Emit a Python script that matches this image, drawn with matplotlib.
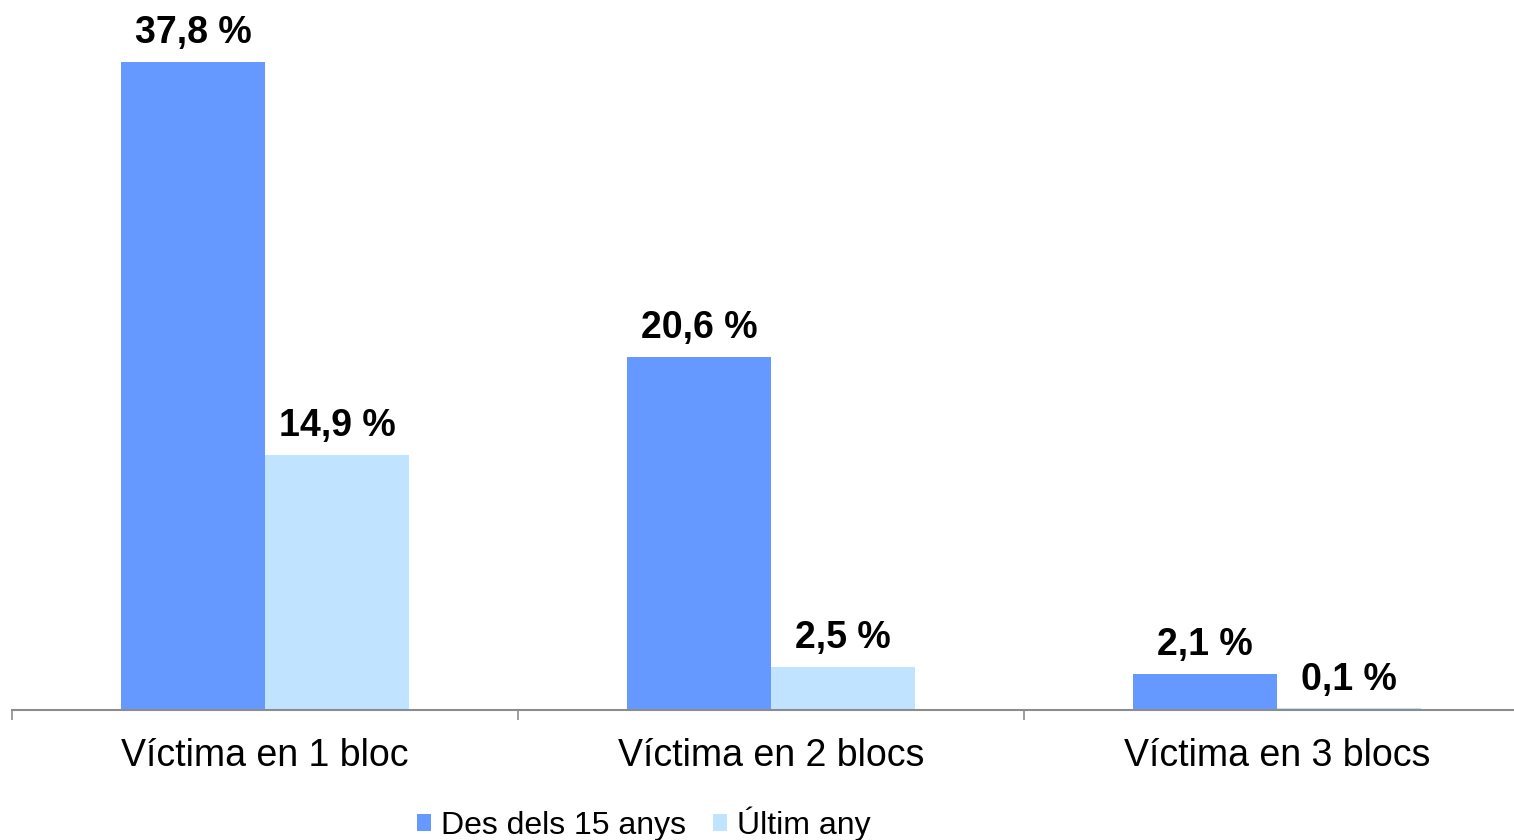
import matplotlib
matplotlib.use("Agg")
import matplotlib.pyplot as plt
import numpy as np

plt.rcParams['font.family'] = ['Liberation Sans', 'DejaVu Sans']

categories = ["Víctima en 1 bloc", "Víctima en 2 blocs", "Víctima en 3 blocs"]
series_names = ["Des dels 15 anys", "Últim any"]
des_dels_15 = [37.8, 20.6, 2.1]
ultim_any = [14.9, 2.5, 0.1]
colors = ["#6699FF", "#C0E4FF"]

W, H = 1514, 840
fig = plt.figure(figsize=(W / 100, H / 100), dpi=100)
ax = fig.add_axes([12 / W, 1 - 710 / H, 1518 / W, 710 / H])

x = np.arange(len(categories))
bw = 0.2846
vals = [des_dels_15, ultim_any]
for i, (s, c) in enumerate(zip(vals, colors)):
    pos = x + (i - 0.5) * bw
    ax.bar(pos, s, width=bw, color=c, label=series_names[i], zorder=2)
    for xp, v in zip(pos, s):
        ax.annotate(f"{v:.1f} %".replace(".", ","), (xp, v), xytext=(0, 13.5),
                    textcoords="offset points", ha="center", va="baseline",
                    fontsize=27, fontweight="bold", color="black")

ax.set_xlim(-0.5, 2.5)
ax.set_ylim(0, 710 / 17.14)
for side in ["top", "right", "left"]:
    ax.spines[side].set_visible(False)
ax.spines["bottom"].set_color("#8c8c8c")
ax.spines["bottom"].set_linewidth(1.5)
ax.set_yticks([])
ax.set_xticks(x)
ax.set_xticklabels(categories, fontsize=27)
ax.tick_params(axis="x", which="major", length=0, pad=20)
ax.set_xticks([-0.5, 0.5, 1.5, 2.5], minor=True)
ax.tick_params(axis="x", which="minor", length=7.5, width=1.2, color="#8c8c8c")

fig.legend(loc="center", bbox_to_anchor=(644 / W, 1 - 824 / H), ncol=2, frameon=False,
           fontsize=23, handlelength=0.45, handleheight=0.45, handletextpad=0.31,
           columnspacing=0.84, borderpad=0, borderaxespad=0)

fig.savefig("out.png", dpi=100)
